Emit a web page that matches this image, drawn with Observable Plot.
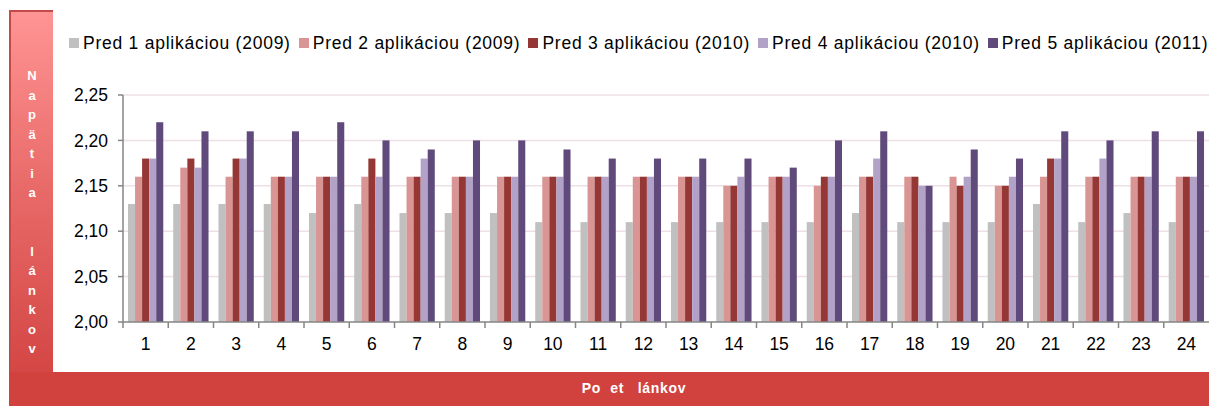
<!DOCTYPE html>
<html>
<head>
<meta charset="utf-8">
<script src="https://cdn.jsdelivr.net/npm/d3@7"></script>
<script src="https://cdn.jsdelivr.net/npm/@observablehq/plot@0.6"></script>
<style>
  html, body { margin: 0; padding: 0; background: #fff; }
  #wrap { position: relative; width: 1209px; height: 406px; overflow: hidden; font-family: "Liberation Sans", Arial, sans-serif; }
  #ybox { position: absolute; left: 9px; top: 10px; width: 44px; height: 396px;
          background: linear-gradient(to bottom, #ff9494 0%, #e86a68 45%, #d0403e 100%);
          border-left: 2px solid #c44a4a; border-top: 2px solid #c44a4a; box-sizing: border-box; }
  #xband { position: absolute; left: 9px; top: 372px; width: 1200px; height: 34px; background: #d1423f; }
  #ytitle { position: absolute; left: 10px; top: 66px; width: 44px; text-align: center; color: #fff;
            font-weight: bold; font-size: 13px; line-height: 19.5px; }
  #xtitle { position: absolute; left: 9px; top: 380px; width: 1200px; text-align: center; color: #fff;
            font-weight: bold; font-size: 14px; letter-spacing: 0.7px; padding-left: 50px; box-sizing: border-box; }
  #legend { position: absolute; left: 69px; top: 33px; font-size: 17.5px; letter-spacing: 0.75px; color: #000; white-space: nowrap; }
  #legend span.item { margin-right: 8px; }
  #legend span.sw { display: inline-block; width: 10px; height: 10px; margin-right: 4px; vertical-align: 1px; }
  #chart { position: absolute; left: 0; top: 60px; }
</style>
</head>
<body>
<div id="wrap">
  <div id="ybox"></div>
  <div id="xband"></div>
  <div id="ytitle"></div>
  <div id="xtitle">Po&nbsp; et &nbsp; lánkov</div>
  <div id="legend"></div>
  <div id="chart"></div>
</div>
<script>
const categories = ["1","2","3","4","5","6","7","8","9","10","11","12","13","14","15","16","17","18","19","20","21","22","23","24"];
const seriesNames = ["Pred 1 aplikáciou (2009)", "Pred 2 aplikáciou (2009)", "Pred 3 aplikáciou (2010)", "Pred 4 aplikáciou (2010)", "Pred 5 aplikáciou (2011)"];
const seriesColors = ["#c0c0c0", "#d99594", "#953735", "#b3a2c7", "#604a7b"];
const s1 = [2.13,2.13,2.13,2.13,2.12,2.13,2.12,2.12,2.12,2.11,2.11,2.11,2.11,2.11,2.11,2.11,2.12,2.11,2.11,2.11,2.13,2.11,2.12,2.11];
const s2 = [2.16,2.17,2.16,2.16,2.16,2.16,2.16,2.16,2.16,2.16,2.16,2.16,2.16,2.15,2.16,2.15,2.16,2.16,2.16,2.15,2.16,2.16,2.16,2.16];
const s3 = [2.18,2.18,2.18,2.16,2.16,2.18,2.16,2.16,2.16,2.16,2.16,2.16,2.16,2.15,2.16,2.16,2.16,2.16,2.15,2.15,2.18,2.16,2.16,2.16];
const s4 = [2.18,2.17,2.18,2.16,2.16,2.16,2.18,2.16,2.16,2.16,2.16,2.16,2.16,2.16,2.16,2.16,2.18,2.15,2.16,2.16,2.18,2.18,2.16,2.16];
const s5 = [2.22,2.21,2.21,2.21,2.22,2.20,2.19,2.20,2.20,2.19,2.18,2.18,2.18,2.18,2.17,2.20,2.21,2.15,2.19,2.18,2.21,2.20,2.21,2.21];
const yTicks = [2.00, 2.05, 2.10, 2.15, 2.20, 2.25];
const yTitle = "Napätia  lánkov";

const allSeries = [s1, s2, s3, s4, s5];
const data = [];
categories.forEach((c, i) => {
  allSeries.forEach((s, k) => data.push({cat: c, series: seriesNames[k], value: s[i]}));
});

// legend
const legend = document.getElementById("legend");
seriesNames.forEach((n, k) => {
  const it = document.createElement("span");
  it.className = "item";
  it.innerHTML = `<span class="sw" style="background:${seriesColors[k]}"></span>${n}`;
  legend.appendChild(it);
});
// y title, vertical letters
document.getElementById("ytitle").innerHTML = Array.from(yTitle).map(ch => ch === " " ? "&nbsp;" : ch).join("<br>");

const fmt = d => d.toFixed(2).replace(".", ",");

const plot = Plot.plot({
  width: 1209,
  height: 310,
  marginTop: 35,
  marginBottom: 48,
  marginLeft: 123,
  marginRight: 0,
  style: {fontFamily: "Liberation Sans, Arial, sans-serif", fontSize: "17.5px", color: "#000", background: "transparent"},
  fx: {domain: categories, paddingInner: 0.22, paddingOuter: 0.11, round: false, label: null, axis: null},
  x: {domain: seriesNames, axis: null, padding: 0, round: false},
  y: {domain: [2.0, 2.25], label: null, axis: null},
  color: {domain: seriesNames, range: seriesColors},
  marks: [
    Plot.barY(data, {fx: "cat", x: "series", y1: 2.0, y2: "value", fill: "series", inset: 0})
  ]
});
document.getElementById("chart").appendChild(plot);

// Axes and gridlines spanning all facets, positioned with the plot's own scales
const svg = d3.select(plot);
const fx = plot.scale("fx");
const yS = plot.scale("y");
const y0 = yS.apply(2.0);
const yTop = yS.apply(2.25);
const bw = fx.bandwidth;
const step = fx.step;
const xLeft = 123, xRight = 1209;

const grid = svg.insert("g", "g");
yTicks.slice(1).forEach(t => {
  grid.append("line").attr("x1", xLeft).attr("x2", xRight)
    .attr("y1", yS.apply(t)).attr("y2", yS.apply(t))
    .attr("stroke", "#eee0e6").attr("stroke-width", 1.5);
});

const g = svg.append("g").attr("font-family", "Liberation Sans, Arial, sans-serif");
// baseline
g.append("line").attr("x1", xLeft).attr("x2", xRight).attr("y1", y0).attr("y2", y0).attr("stroke", "#868686").attr("stroke-width", 1.5);
// y axis
g.append("line").attr("x1", xLeft).attr("x2", xLeft).attr("y1", yTop).attr("y2", y0).attr("stroke", "#868686").attr("stroke-width", 1.5);
yTicks.forEach(t => {
  const yy = yS.apply(t);
  g.append("line").attr("x1", xLeft - 5).attr("x2", xLeft).attr("y1", yy).attr("y2", yy).attr("stroke", "#868686").attr("stroke-width", 1.5);
  g.append("text").attr("x", xLeft - 15).attr("y", yy).attr("dy", "0.35em").attr("text-anchor", "end")
    .attr("font-size", 17.5).attr("fill", "#000").text(fmt(t));
});
// x axis ticks and labels
categories.forEach((c, i) => {
  const xc = fx.apply(c) + bw / 2;
  const xl = xc - step / 2;
  g.append("line").attr("x1", xl).attr("x2", xl).attr("y1", y0).attr("y2", y0 + 6).attr("stroke", "#868686").attr("stroke-width", 1.5);
  g.append("text").attr("x", xc).attr("y", y0 + 28).attr("text-anchor", "middle")
    .attr("font-size", 17.5).attr("fill", "#000").text(c);
});
</script>
</body>
</html>
